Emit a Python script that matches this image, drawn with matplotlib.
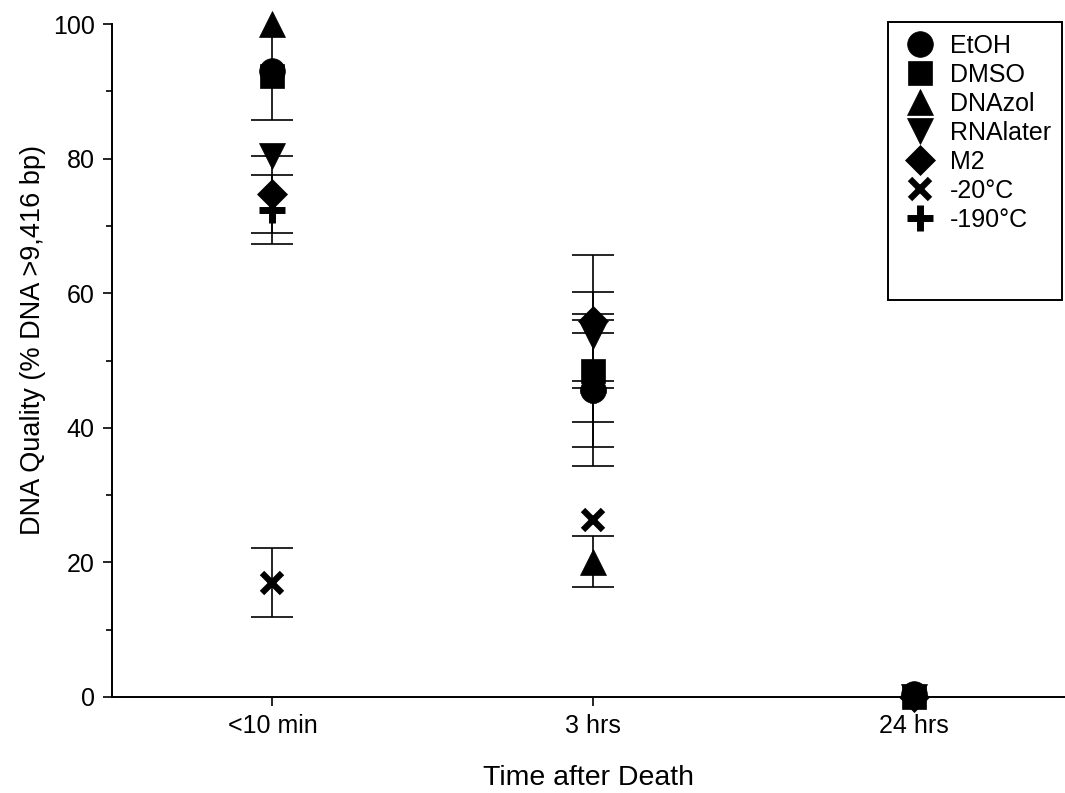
import numpy as np
import matplotlib
matplotlib.use("Agg")
import matplotlib.pyplot as plt
from matplotlib.lines import Line2D
from matplotlib.patches import Rectangle

plt.rcParams['font.family'] = ['Liberation Sans', 'DejaVu Sans']

# ---- data ----
categories = ["<10 min", "3 hrs", "24 hrs"]
series = ["EtOH", "DMSO", "DNAzol", "RNAlater", "M2", "-20°C", "-190°C"]

etoh_mean = [93.0, 45.6, 0.5]
etoh_err = [7.3, 11.3, np.nan]
dmso_mean = [92.2, 48.4, 0.0]
dmso_err = [np.nan, 7.6, np.nan]
dnazol_mean = [100.0, 20.1, np.nan]
dnazol_err = [np.nan, 3.8, np.nan]
rnalater_mean = [80.4, 53.6, 0.0]
rnalater_err = [np.nan, 6.6, np.nan]
m2_mean = [74.7, 55.8, 0.0]
m2_err = [5.7, 9.9, np.nan]
minus20_mean = [17.0, 26.3, np.nan]
minus20_err = [5.1, np.nan, np.nan]
minus190_mean = [72.4, 45.6, np.nan]
minus190_err = [5.1, 8.5, np.nan]

means = [etoh_mean, dmso_mean, dnazol_mean, rnalater_mean, m2_mean, minus20_mean, minus190_mean]
errs = [etoh_err, dmso_err, dnazol_err, rnalater_err, m2_err, minus20_err, minus190_err]

# marker styles (marker, size, edge width)
styles = [
    ("o", 18.5, 0.5),
    ("s", 17.0, 0.5),
    ("^", 19.0, 0.5),
    ("v", 19.0, 0.5),
    ("D", 15.0, 0.5),
    ("x", 14.5, 4.5),
    ("+", 19.0, 5.0),
]
draw_order = [6, 5, 4, 3, 2, 1, 0]

fig = plt.figure(figsize=(10.65, 7.93), dpi=100)
W, H = 1065, 793
ax = fig.add_axes([112 / W, (H - 697) / H, (W - 112) / W, (697 - 24) / H])

x = np.arange(len(categories))
for i in draw_order:
    m, e = means[i], errs[i]
    mk, ms, mew = styles[i]
    ax.errorbar(x, m, yerr=e, fmt='none', ecolor='black', elinewidth=1.2,
                capsize=15, capthick=1.2, zorder=2)
    ax.plot(x, m, linestyle='none', marker=mk, markersize=ms, color='black',
            markeredgecolor='black', markeredgewidth=mew, clip_on=False, zorder=3)

ax.set_xlim(-0.5, 2.47)
ax.set_ylim(0, 100)
ax.set_xticks(x)
ax.set_xticklabels(categories)
ax.set_yticks(np.arange(0, 101, 20))
ax.set_yticks(np.arange(10, 100, 20), minor=True)

for side in ("top", "right"):
    ax.spines[side].set_visible(False)
for side in ("left", "bottom"):
    ax.spines[side].set_linewidth(1.4)

ax.tick_params(axis='both', which='major', direction='out', length=6.5, width=1.2,
               labelsize=18, pad=6, colors='black')
ax.tick_params(axis='y', which='minor', direction='out', length=4, width=1.2)

ax.set_xlabel("Time after Death", fontsize=20.5, labelpad=19)
ax.set_ylabel("DNA Quality (% DNA >9,416 bp)", fontsize=19.5)
ax.yaxis.set_label_coords(-0.069, 0.53)

# legend
handles = [Line2D([], [], linestyle='none', marker=mk, markersize=ms, color='black',
                  markeredgecolor='black', markeredgewidth=mew)
           for (mk, ms, mew) in styles]
leg = fig.legend(handles, series, loc='upper left',
                 bbox_to_anchor=(905 / W, 1 - 34 / H), frameon=False,
                 fontsize=18, labelspacing=0.2, handlelength=1.2,
                 handletextpad=0.6, borderpad=0, borderaxespad=0)
fig.patches.append(Rectangle((888 / W, (H - 300) / H), 174 / W, 278 / H,
                             transform=fig.transFigure, fill=False,
                             edgecolor='black', linewidth=1.4))

fig.savefig("out.png", dpi=100)
